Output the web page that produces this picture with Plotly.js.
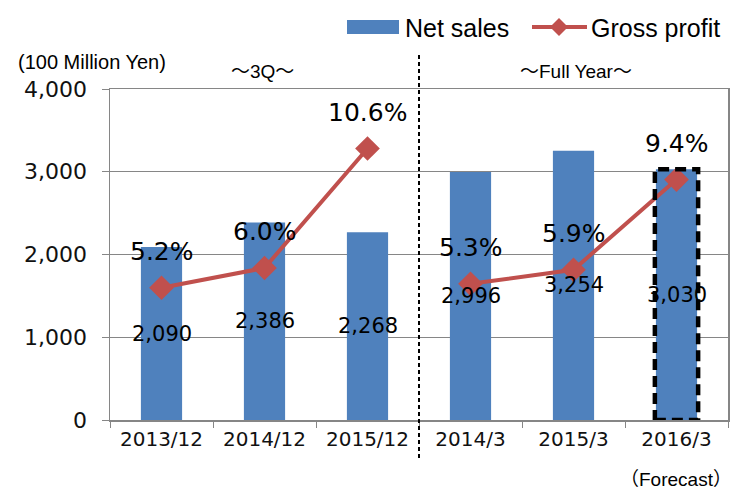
<!DOCTYPE html>
<html>
<head>
<meta charset="utf-8">
<script src="https://cdn.plot.ly/plotly-3.0.1.min.js"></script>
<style>html,body{margin:0;padding:0;background:#fff;}#chart{width:734px;height:491px;}</style>
</head>
<body>
<div id="chart"></div>
<script>
// ---- data ----
const categories = ["2013/12", "2014/12", "2015/12", "2014/3", "2015/3", "2016/3"];
const netSales = [2090, 2386, 2268, 2996, 3254, 3030];
const netSalesLabels = ["2,090", "2,386", "2,268", "2,996", "3,254", "3,030"];
const grossProfit = [1598, 1837, 3281, 1646, 1816, 2906];   // plotted position
const grossMargin = ["5.2%", "6.0%", "10.6%", "5.3%", "5.9%", "9.4%"];
const groups = [[0, 1, 2], [3, 4, 5]];  // 3Q (Dec) and Full Year (Mar) segments
const forecastIndex = 5;
const yTicks = [0, 1000, 2000, 3000, 4000];

// ---- layout constants ----
const W = 734, H = 491;
const M = {l: 110, r: 6, t: 89, b: 71};
const PW = W - M.l - M.r, PH = H - M.t - M.b;
const px = x => (x - M.l) / PW;
const py = y => (H - M.b - y) / PH;
const BLUE = "#4F81BD", RED = "#C0504D", GRID = "#868686";
const BARGAP = 0.6;
const SANS = "Liberation Sans, Noto Sans CJK JP, sans-serif";

const traces = [{
  type: "bar", x: categories, y: netSales, name: "Net sales",
  marker: {color: BLUE}, hoverinfo: "x+y", showlegend: false
}];
groups.forEach(g => {
  traces.push({
    type: "scatter", mode: "lines+markers",
    x: g.map(i => categories[i]), y: g.map(i => grossProfit[i]),
    name: "Gross profit", showlegend: false,
    line: {color: RED, width: 4},
    marker: {symbol: "diamond", size: 19, color: RED}
  });
});

const annotations = [];
categories.forEach((c, i) => {
  annotations.push({
    x: c, y: netSales[i] / 2, xref: "x", yref: "y", showarrow: false,
    xanchor: "center", yanchor: "middle",
    text: netSalesLabels[i], font: {family: "DejaVu Sans", size: 21, color: "#000"}
  });
  annotations.push({
    x: c, y: grossProfit[i], xref: "x", yref: "y", showarrow: false,
    xanchor: "center", yanchor: "bottom", yshift: 20,
    text: grossMargin[i], font: {family: "DejaVu Sans", size: 25, color: "#000"}
  });
});
const paperText = (xPix, yPix, text, size, anchor) => ({
  xref: "paper", yref: "paper", x: px(xPix), y: py(yPix), showarrow: false,
  xanchor: anchor || "center", yanchor: "middle", text: text,
  font: {family: SANS, size: size, color: "#000"}
});
annotations.push(
  paperText(92, 62, "(100 Million Yen)", 20),
  paperText(262, 71, "～3Q～", 19),
  paperText(576, 71, "～Full Year～", 19),
  paperText(676, 479, "（Forecast）", 19),
  paperText(403, 28, "Net sales", 25, "left"),
  paperText(589, 28, "Gross profit", 25, "left")
);

const half = (1 - BARGAP) / 2;
const dx = 9 / PW, dy = 9 / PH, cx = px(559), cy = py(27);
const shapes = [
  // divider between 3Q and full year
  {type: "line", xref: "x", yref: "paper", x0: 2.5, x1: 2.5, y0: py(55), y1: py(461),
   line: {color: "#000", width: 2, dash: "4px,3px"}},
  // forecast outline
  {type: "rect", xref: "x", yref: "y", x0: forecastIndex - half - 0.01, x1: forecastIndex + half + 0.01,
   y0: 0, y1: netSales[forecastIndex], line: {color: "#000", width: 4.5, dash: "11px,6px"}},
  // manual legend
  {type: "rect", xref: "paper", yref: "paper", x0: px(347), x1: px(399), y0: py(34), y1: py(20),
   fillcolor: BLUE, line: {width: 0}},
  {type: "line", xref: "paper", yref: "paper", x0: px(532), x1: px(587), y0: cy, y1: cy,
   line: {color: RED, width: 4}},
  {type: "path", xref: "paper", yref: "paper",
   path: `M${cx - dx},${cy} L${cx},${cy + dy} L${cx + dx},${cy} L${cx},${cy - dy} Z`,
   fillcolor: RED, line: {width: 0}}
];

const layout = {
  width: W, height: H, margin: M,
  paper_bgcolor: "#fff", plot_bgcolor: "#fff",
  bargap: BARGAP, showlegend: false,
  font: {family: "DejaVu Sans", color: "#000"},
  xaxis: {
    type: "category", tickson: "boundaries", ticks: "outside", ticklen: 6, tickcolor: GRID,
    showline: true, linecolor: GRID, linewidth: 1.5, mirror: true, showgrid: false,
    tickfont: {family: "DejaVu Sans", size: 20, color: "#111"}
  },
  yaxis: {
    range: [0, 4000], tickvals: yTicks, tickformat: ",d", ticks: "outside", ticklen: 7, tickcolor: GRID,
    showline: true, linecolor: GRID, linewidth: 1.5, mirror: true,
    showgrid: true, gridcolor: GRID, gridwidth: 1.2, zeroline: false,
    ticklabelstandoff: 10,
    tickfont: {family: "DejaVu Sans", size: 22, color: "#111"}
  },
  annotations: annotations,
  shapes: shapes
};

Plotly.newPlot("chart", traces, layout, {displayModeBar: false, staticPlot: true});
</script>
</body>
</html>
